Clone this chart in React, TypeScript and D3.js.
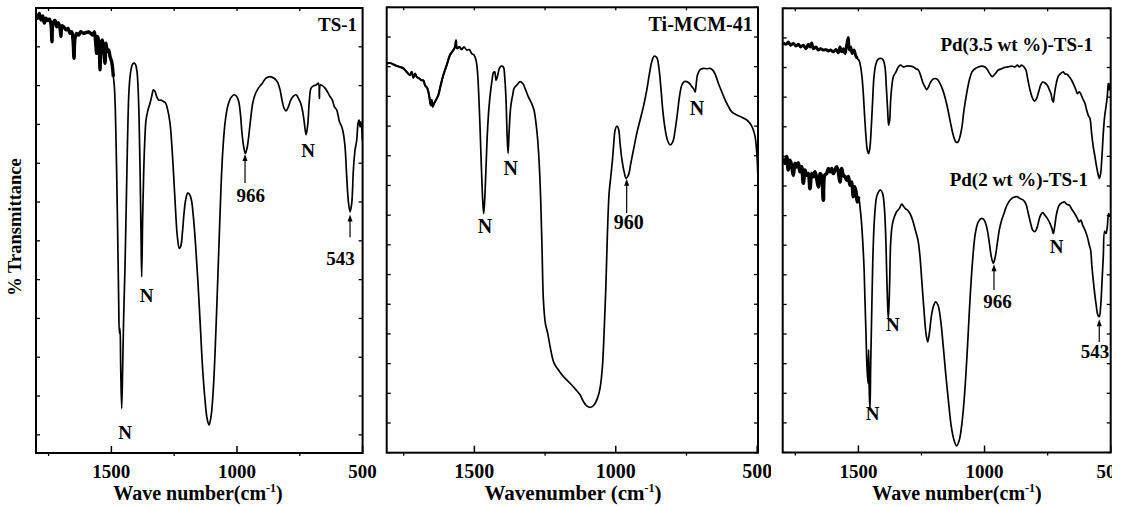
import React from "react";
import * as d3 from "d3";

type Pt = [number, number];

// ---------- data: [wavenumber (cm-1), transmittance (a.u., 0-100 of panel)] ----------
const ts1: Pt[] = [
  [1800,98.7],[1793.3,97.7],[1786.7,98.8],[1780.1,97.3],[1773.4,98.2],[1766.8,96.6],[1760.2,97.7],[1753.5,97.2],
  [1746.9,97.5],[1740.3,96.2],[1736.3,92.4],[1732.3,96.6],[1724.3,97.2],[1717.7,95.8],[1711.1,96.7],[1704.4,95.4],
  [1700.5,93.6],[1696.5,96.0],[1688.5,95.7],[1680.6,95.1],[1672.6,95.4],[1664.6,94.3],[1658.0,94.7],[1652.7,92.8],
  [1648.7,88.7],[1644.7,93.2],[1638.1,94.3],[1630.1,93.9],[1622.2,94.7],[1611.6,94.3],[1600.9,94.5],[1590.3,94.6],
  [1582.4,94.3],[1574.4,93.9],[1567.8,94.7],[1562.4,92.1],[1558.5,89.8],[1554.5,93.6],[1549.2,92.1],[1545.2,86.1],
  [1541.2,91.7],[1535.9,92.8],[1530.6,90.6],[1525.3,87.6],[1521.3,92.1],[1516.0,90.2],[1510.7,90.6],[1505.4,89.1],
  [1498.7,87.9],[1492.1,84.6],[1488.1,82.3],[1484.2,77.1],[1481.5,70.3],[1478.9,62.9],[1474.9,49.4],[1470.9,34.4],
  [1468.2,26.9],[1465.6,28.0],[1462.9,19.4],[1458.9,10.0],[1455.0,19.4],[1451.0,30.6],[1445.7,41.9],[1440.4,56.9],
  [1435.1,71.8],[1429.7,81.6],[1423.1,85.7],[1415.2,87.4],[1408.5,87.6],[1403.2,87.2],[1397.9,85.7],[1393.9,82.3],
  [1389.9,75.6],[1386.0,64.4],[1382.0,49.4],[1379.3,39.6],[1375.4,53.1],[1371.4,62.9],[1367.4,69.6],[1362.1,74.8],
  [1354.1,77.1],[1346.2,78.6],[1339.5,80.1],[1332.9,81.6],[1326.2,81.2],[1319.6,80.1],[1311.6,79.3],[1302.4,79.3],
  [1293.1,79.0],[1283.8,78.6],[1275.8,77.1],[1266.5,74.1],[1259.9,69.6],[1253.3,63.6],[1245.3,55.4],[1237.3,48.6],
  [1229.4,46.0],[1224.1,46.4],[1217.4,49.4],[1210.8,53.9],[1204.2,56.9],[1196.2,58.4],[1189.6,58.2],[1181.6,56.9],
  [1173.6,53.1],[1164.4,46.4],[1155.1,38.1],[1145.8,28.4],[1136.5,18.7],[1127.2,11.9],[1119.2,7.8],[1111.3,6.3],
  [1103.3,8.2],[1095.3,13.4],[1087.4,22.4],[1079.4,34.4],[1071.5,47.1],[1063.5,59.9],[1055.5,68.8],[1046.2,74.8],
  [1035.6,78.2],[1023.7,79.9],[1010.4,80.5],[1001.1,80.1],[993.2,79.0],[986.5,76.3],[979.9,71.8],[973.2,68.8],
  [966.6,67.3],[960.0,68.5],[953.4,71.1],[945.4,75.2],[937.4,78.6],[928.2,80.5],[914.9,82.0],[899.0,83.1],
  [885.7,84.2],[868.4,84.6],[852.5,84.2],[839.2,83.4],[828.6,81.6],[820.7,79.3],[812.7,77.5],[804.7,76.9],
  [795.5,77.8],[786.2,79.3],[775.5,80.2],[764.9,80.5],[755.6,79.7],[746.3,78.6],[738.4,76.7],[731.7,74.1],
  [725.1,71.5],[718.5,73.7],[711.8,79.3],[705.2,82.0],[695.9,82.5],[685.3,82.7],[676.0,83.1],[672.0,79.7],
  [668.1,82.7],[658.8,82.5],[649.5,82.0],[640.2,81.2],[629.6,80.1],[620.3,79.3],[612.3,77.8],[603.0,77.1],
  [592.4,74.5],[583.1,73.3],[576.5,71.8],[569.9,68.8],[563.2,62.1],[556.6,56.5],[549.9,54.2],[543.3,56.1],
  [536.7,63.6],[530.0,68.1],[523.4,70.3],[518.1,74.1],[514.1,74.8],[510.1,73.3],[506.2,74.5],[500.9,70.3],
];

const tiMcm41: Pt[] = [
  [1810.1,87.4],[1798.3,87.5],[1780.7,87.0],[1763.0,86.6],[1751.2,86.3],[1739.4,85.5],[1727.6,84.8],[1721.7,85.5],
  [1715.8,84.2],[1709.9,85.1],[1704.0,84.4],[1694.6,84.0],[1686.3,83.6],[1680.4,83.6],[1674.5,82.5],[1666.3,81.8],
  [1659.2,79.9],[1654.5,78.0],[1650.9,79.2],[1647.4,77.7],[1642.7,78.4],[1635.6,79.2],[1627.4,80.3],[1619.1,82.5],
  [1609.7,84.8],[1597.9,87.0],[1586.1,89.3],[1574.3,90.4],[1568.4,91.1],[1564.9,92.6],[1561.3,90.8],[1553.1,91.1],
  [1544.8,90.5],[1536.6,91.1],[1527.1,90.4],[1517.7,90.5],[1509.4,89.6],[1501.2,89.3],[1494.1,88.1],[1489.4,85.9],
  [1484.7,80.7],[1480.0,73.2],[1475.2,64.2],[1470.5,56.7],[1467.0,53.7],[1463.5,56.7],[1458.7,64.2],[1454.0,71.7],
  [1448.1,77.7],[1442.2,81.4],[1437.5,83.6],[1432.8,85.3],[1428.1,85.5],[1423.4,83.6],[1418.6,84.4],[1411.6,86.3],
  [1404.5,86.8],[1397.4,86.6],[1392.7,84.4],[1388.0,79.2],[1384.4,71.7],[1380.9,67.2],[1377.4,71.7],[1372.6,76.9],
  [1367.9,79.2],[1364.4,80.3],[1359.7,81.8],[1350.3,82.5],[1338.5,83.3],[1329.0,82.9],[1320.8,81.8],[1309.0,79.9],
  [1297.2,78.4],[1289.0,76.9],[1281.9,73.9],[1276.0,70.2],[1270.1,64.2],[1265.4,56.7],[1260.6,45.5],[1255.9,34.3],
  [1248.8,29.0],[1240.6,26.8],[1230.0,23.1],[1218.2,20.1],[1202.9,18.6],[1185.2,17.1],[1161.6,15.6],[1140.4,14.1],
  [1126.2,13.0],[1114.4,11.5],[1102.6,10.5],[1088.5,10.2],[1076.7,10.7],[1064.9,12.2],[1055.5,14.5],[1047.2,19.3],
  [1041.3,26.8],[1035.4,36.5],[1029.5,49.2],[1023.6,58.2],[1017.7,61.9],[1011.8,65.7],[1007.1,69.4],[1002.4,72.4],
  [996.5,73.3],[990.6,72.8],[984.7,69.4],[978.8,66.1],[970.5,63.1],[963.5,61.6],[955.3,62.3],[947.0,64.9],
  [937.6,67.9],[925.7,71.7],[913.9,74.7],[902.2,77.7],[890.4,81.4],[880.9,85.1],[872.7,87.8],[864.4,89.0],
  [855.0,88.7],[847.9,86.6],[840.8,82.2],[833.8,76.9],[826.7,73.2],[817.3,70.2],[807.8,69.1],[798.4,69.8],
  [790.1,72.4],[781.9,76.2],[774.8,79.9],[766.6,82.5],[758.3,83.3],[748.9,83.3],[739.5,82.9],[731.2,82.2],
  [725.3,81.8],[719.4,81.0],[715.9,82.5],[711.1,84.8],[701.7,86.0],[689.9,86.3],[678.1,86.2],[666.3,86.3],
  [656.9,85.9],[648.6,85.0],[636.9,82.9],[625.0,81.0],[613.2,79.2],[601.4,77.7],[589.6,76.5],[572.0,75.8],
  [554.3,75.3],[536.6,74.7],[524.8,73.9],[515.4,72.8],[507.1,70.9],[501.2,67.2],[497.7,62.7],
];

const pd35: Pt[] = [
  [1797.5,92.2],[1787.0,91.9],[1777.7,92.4],[1768.5,91.7],[1757.9,92.1],[1747.3,91.5],[1738.1,91.9],[1728.8,91.3],
  [1718.3,91.7],[1707.7,90.9],[1698.5,91.9],[1691.9,91.3],[1685.2,92.2],[1678.6,90.9],[1668.1,91.3],[1658.8,90.6],
  [1649.6,90.9],[1639.0,90.6],[1628.4,90.7],[1619.2,90.4],[1609.9,90.6],[1599.4,90.2],[1588.8,90.7],[1579.6,90.0],
  [1573.0,91.3],[1566.4,90.2],[1559.8,90.9],[1553.1,89.8],[1546.5,91.7],[1539.9,93.4],[1536.0,90.6],[1530.7,91.3],
  [1524.1,89.8],[1517.5,90.6],[1510.9,89.4],[1504.3,88.7],[1497.7,88.3],[1491.1,86.8],[1485.8,84.6],[1480.5,80.8],
  [1475.2,75.6],[1469.9,71.1],[1464.6,68.1],[1459.4,67.3],[1454.1,68.8],[1448.8,73.3],[1443.5,79.3],[1438.2,84.6],
  [1431.6,87.2],[1425.0,88.3],[1417.1,88.7],[1409.2,88.7],[1401.2,88.3],[1394.6,86.8],[1389.3,82.3],[1384.1,77.1],
  [1380.1,73.7],[1376.1,74.8],[1372.2,79.3],[1366.9,82.7],[1361.6,84.6],[1351.0,85.7],[1341.8,86.8],[1332.5,87.2],
  [1322.0,86.8],[1308.8,87.0],[1295.6,87.0],[1282.3,86.8],[1271.8,86.4],[1262.5,86.1],[1253.3,84.9],[1245.4,83.4],
  [1236.1,82.3],[1229.5,81.7],[1222.9,82.2],[1216.3,83.1],[1205.7,84.0],[1196.5,84.2],[1187.2,84.0],[1176.7,83.1],
  [1166.1,81.7],[1155.5,79.7],[1145.0,77.1],[1134.4,74.1],[1123.8,71.4],[1113.3,69.9],[1105.3,69.9],[1097.4,71.1],
  [1089.5,73.3],[1081.5,77.1],[1071.0,80.8],[1060.4,83.8],[1049.8,85.7],[1037.9,86.4],[1024.7,86.8],[1011.5,87.0],
  [998.3,86.8],[987.8,86.1],[978.5,85.2],[969.3,84.6],[958.7,85.2],[945.5,86.1],[932.3,86.4],[919.1,86.7],
  [905.9,86.8],[892.6,87.0],[879.4,86.8],[870.2,87.2],[862.3,86.8],[853.0,87.2],[843.8,86.8],[835.8,86.1],
  [829.2,84.2],[822.6,82.3],[816.0,80.8],[809.4,79.7],[801.5,79.1],[793.6,79.7],[785.6,81.2],[777.7,82.7],
  [769.8,83.4],[760.5,83.2],[751.3,82.7],[743.4,81.7],[736.7,80.8],[731.5,79.3],[727.5,78.9],[723.6,80.4],
  [717.0,82.7],[707.7,84.7],[698.5,85.3],[687.9,85.7],[681.3,85.2],[674.7,85.2],[664.1,84.6],[654.9,83.8],
  [645.6,82.7],[637.7,81.6],[632.4,80.8],[624.5,81.2],[619.2,80.8],[611.3,79.7],[602.0,78.6],[595.4,77.1],
  [588.8,75.9],[582.2,75.2],[575.6,71.8],[569.0,68.8],[562.4,66.6],[555.8,64.3],[550.5,62.8],[545.2,61.7],
  [539.9,62.8],[534.7,66.6],[529.4,71.8],[524.1,75.6],[518.8,77.8],[513.5,80.1],[509.6,83.1],[505.6,81.6],[503.0,83.1],
];

const pd2: Pt[] = [
  [1797.5,66.2],[1790.9,65.1],[1784.3,66.6],[1777.7,63.6],[1771.1,65.8],[1764.5,64.7],[1757.9,62.4],[1751.3,65.1],
  [1744.7,64.3],[1738.1,65.2],[1731.5,63.2],[1724.9,64.3],[1718.3,60.6],[1711.7,63.6],[1705.1,62.4],[1698.5,62.8],
  [1691.9,59.4],[1685.2,62.8],[1678.6,62.1],[1672.0,63.2],[1665.4,61.7],[1658.8,59.8],[1652.2,62.8],[1645.6,62.1],
  [1639.0,56.8],[1633.7,62.4],[1625.8,62.8],[1619.2,63.9],[1612.6,63.2],[1606.0,63.9],[1599.4,62.8],[1592.8,63.6],
  [1586.2,64.3],[1579.6,63.2],[1573.0,60.9],[1566.4,63.9],[1559.8,62.4],[1553.1,62.1],[1546.5,61.3],[1539.9,62.1],
  [1533.3,60.2],[1526.7,60.9],[1520.1,57.6],[1514.8,59.8],[1509.6,58.7],[1504.3,56.4],[1499.0,57.6],[1493.7,55.3],
  [1488.4,52.3],[1483.1,47.8],[1477.8,41.8],[1473.9,34.3],[1469.9,26.8],[1466.0,19.3],[1462.0,15.6],[1459.4,23.1],
  [1456.7,13.3],[1454.1,9.6],[1451.4,19.3],[1447.5,30.6],[1443.5,41.8],[1438.2,50.8],[1432.9,55.3],[1427.7,57.6],
  [1419.7,58.7],[1411.8,59.1],[1403.9,58.3],[1397.3,55.3],[1392.0,49.3],[1386.7,38.1],[1381.4,29.8],[1376.1,38.1],
  [1372.2,47.1],[1366.9,50.8],[1361.6,52.3],[1355.0,53.4],[1348.4,54.2],[1337.8,54.9],[1328.6,55.9],[1322.0,55.5],
  [1314.0,54.9],[1306.1,54.6],[1295.6,53.8],[1285.0,52.3],[1274.4,50.1],[1263.8,47.8],[1255.9,44.1],[1248.0,38.1],
  [1240.1,32.1],[1232.1,26.8],[1225.5,24.9],[1218.9,26.8],[1211.0,30.6],[1203.1,32.8],[1193.8,33.9],[1184.6,33.2],
  [1174.0,29.8],[1163.5,23.8],[1152.9,17.1],[1142.3,11.1],[1131.7,5.8],[1121.2,2.8],[1110.6,1.5],[1100.0,2.8],
  [1089.5,6.6],[1078.9,13.3],[1068.3,23.1],[1057.8,34.3],[1047.2,43.3],[1036.6,49.3],[1024.7,51.9],[1011.5,52.7],
  [1001.0,52.3],[991.7,50.8],[982.5,47.8],[973.2,44.1],[965.3,42.6],[957.4,44.1],[949.4,47.1],[941.5,50.1],
  [932.3,52.3],[923.0,53.8],[912.5,55.5],[899.3,56.8],[886.0,57.4],[872.8,57.6],[859.6,57.2],[846.4,56.8],
  [835.8,55.9],[826.6,53.8],[817.3,51.6],[809.4,50.1],[800.2,49.7],[790.9,50.8],[780.4,53.1],[769.8,54.0],
  [760.5,53.4],[751.3,52.7],[740.7,51.6],[732.8,50.4],[727.5,49.3],[722.2,50.8],[714.3,53.8],[703.7,55.7],
  [693.2,56.2],[682.6,56.4],[674.7,55.9],[664.1,55.7],[653.6,54.7],[643.0,53.8],[632.4,52.7],[624.5,51.9],
  [617.9,52.3],[611.3,51.2],[602.0,50.1],[592.8,48.6],[584.9,46.7],[579.6,45.6],[574.3,41.8],[566.4,37.3],
  [558.5,33.6],[550.5,30.9],[545.2,30.6],[539.9,32.8],[534.7,38.1],[529.4,44.1],[524.1,49.8],[518.8,49.3],
  [513.5,50.8],[508.3,53.8],[503.0,53.1],
];

// wavenumber above which each spectrum is a dense noisy band
const noiseEdge = { ts1: 1492, tiMcm41: 1540, pd35: 1500, pd2: 1496 };

// ---------- axis ticks ----------
const xMajorTicks = [1500, 1000, 500];
const xMinorTicks = [1750, 1250, 750];
const xTopTicks = [1750, 1500, 1250, 1000, 750];
const yTicksP1 = [100, 91.28, 82.56, 73.84, 65.12, 56.4, 47.68, 38.96, 30.24, 21.52, 12.8, 4.08];
const yTicksP23 = [100, 93.33, 86.67, 80, 73.33, 66.67, 60, 53.33, 46.67, 40, 33.33, 26.67, 20, 13.33, 6.67, 0];

// ---------- annotations ----------
type Ann = { t: string; wn: number; v: number; anchor?: "start" | "middle" | "end"; size?: number };
type Arrow = { wn: number; from: number; to: number };

const annP1: Ann[] = [
  { t: "TS-1", wn: 522, v: 94.8, anchor: "end" },
  { t: "N", wn: 1445.7, v: 3.1 },
  { t: "N", wn: 1359.3, v: 33.9 },
  { t: "966", wn: 944.9, v: 56.4 },
  { t: "N", wn: 717.1, v: 66.5 },
  { t: "543", wn: 587.8, v: 42.2 },
];
const arrP1: Arrow[] = [
  { wn: 968, from: 60.7, to: 67.2 },
  { wn: 550, from: 48.5, to: 53.6 },
];
const annP2: Ann[] = [
  { t: "Ti-MCM-41", wn: 515.8, v: 94.6, anchor: "end", size: 20 },
  { t: "N", wn: 1462.4, v: 49.3, size: 20 },
  { t: "N", wn: 1371.2, v: 62.3, size: 20 },
  { t: "960", wn: 954.3, v: 50.2, size: 20 },
  { t: "N", wn: 712.8, v: 75.8, size: 20 },
];
const arrP2: Arrow[] = [{ wn: 961.4, from: 53.8, to: 61.5 }];
const annP3: Ann[] = [
  { t: "Pd(3.5 wt %)-TS-1", wn: 570.3, v: 90.4, anchor: "end" },
  { t: "Pd(2 wt %)-TS-1", wn: 590.1, v: 60.0, anchor: "end" },
  { t: "N", wn: 1443.3, v: 7.3 },
  { t: "N", wn: 1362.9, v: 27.4 },
  { t: "966", wn: 948.7, v: 32.5 },
  { t: "N", wn: 714.1, v: 44.9 },
  { t: "543", wn: 562.3, v: 21.3 },
];
const arrP3: Arrow[] = [
  { wn: 962.6, from: 36.6, to: 42.4 },
  { wn: 545.3, from: 24.9, to: 30.0 },
];

const FONT = "'Liberation Serif', 'Times New Roman', Times, serif";

type Series = { pts: Pt[]; noiseEdge: number; noiseWidth: number };

type PanelDef = {
  id: string;
  left: number; right: number; top: number; bottom: number;
  xDomain: [number, number];
  yTicks: number[];
  series: Series[];
  ann: Ann[];
  arrows: Arrow[];
  xLabel: string;
  xLabelX: number;
  labelSize: number;
  tickSize: number;
  clip: [number, number];
};

const panels: PanelDef[] = [
  {
    id: "p1", left: 36, right: 362.6, top: 8, bottom: 453, xDomain: [1800, 500],
    yTicks: yTicksP1, series: [{ pts: ts1, noiseEdge: noiseEdge.ts1, noiseWidth: 3.4 }], ann: annP1, arrows: arrP1,
    xLabel: "Wave number(cm", xLabelX: 198, labelSize: 20, tickSize: 19, clip: [0, 380],
  },
  {
    id: "p2", left: 386.7, right: 758, top: 7.3, bottom: 452.7, xDomain: [1810, 497],
    yTicks: yTicksP23, series: [{ pts: tiMcm41, noiseEdge: noiseEdge.tiMcm41, noiseWidth: 2.1 }], ann: annP2, arrows: arrP2,
    xLabel: "Wavenumber (cm", xLabelX: 573, labelSize: 21, tickSize: 20, clip: [372, 771],
  },
  {
    id: "p3", left: 782.7, right: 1110.7, top: 8.3, bottom: 452.5, xDomain: [1800, 500],
    yTicks: yTicksP23,
    series: [
      { pts: pd35, noiseEdge: noiseEdge.pd35, noiseWidth: 3.0 },
      { pts: pd2, noiseEdge: noiseEdge.pd2, noiseWidth: 3.6 },
    ],
    ann: annP3, arrows: arrP3,
    xLabel: "Wave number(cm", xLabelX: 957, labelSize: 20, tickSize: 19, clip: [772, 1112],
  },
];

function Panel({ p }: { p: PanelDef }) {
  const x = d3.scaleLinear().domain(p.xDomain).range([p.left, p.right]);
  const y = d3.scaleLinear().domain([0, 100]).range([p.bottom, p.top]);
  const line = d3
    .line<Pt>()
    .x((d) => x(d[0]))
    .y((d) => y(d[1]))
    .curve(d3.curveCatmullRom.alpha(0.5));
  const size = p.ann.find((a) => a.size)?.size ?? 19;
  return (
    <g clipPath={`url(#clip-${p.id})`}>
      <defs>
        <clipPath id={`clip-${p.id}`}>
          <rect x={p.clip[0]} y={0} width={p.clip[1] - p.clip[0]} height={507} />
        </clipPath>
        <clipPath id={`plot-${p.id}`}>
          <rect x={p.left} y={p.top} width={p.right - p.left} height={p.bottom - p.top} />
        </clipPath>
      </defs>
      <g clipPath={`url(#plot-${p.id})`}>
        {p.series.map((s, i) => (
          <g key={i}>
            <path d={line(s.pts) ?? ""} fill="none" stroke="#000" strokeWidth={1.7} strokeLinejoin="round" />
            <path
              d={line(s.pts.filter((d) => d[0] >= s.noiseEdge)) ?? ""}
              fill="none"
              stroke="#000"
              strokeWidth={s.noiseWidth}
              strokeLinejoin="round"
            />
          </g>
        ))}
      </g>
      {p.yTicks.map((t, i) => (
        <g key={i} stroke="#000" strokeWidth={1.3}>
          <line x1={p.left} x2={p.left + 4} y1={y(t)} y2={y(t)} />
          <line x1={p.right} x2={p.right - 4} y1={y(t)} y2={y(t)} />
        </g>
      ))}
      {xMajorTicks.map((t) => (
        <line key={"M" + t} x1={x(t)} x2={x(t)} y1={p.bottom} y2={p.bottom - 7} stroke="#000" strokeWidth={1.5} />
      ))}
      {xMinorTicks.map((t) => (
        <line key={"m" + t} x1={x(t)} x2={x(t)} y1={p.bottom} y2={p.bottom + 3} stroke="#000" strokeWidth={1.3} />
      ))}
      {xTopTicks.map((t) => (
        <line key={"t" + t} x1={x(t)} x2={x(t)} y1={p.top} y2={p.top + 3} stroke="#000" strokeWidth={1.3} />
      ))}
      <rect x={p.left} y={p.top} width={p.right - p.left} height={p.bottom - p.top} fill="none" stroke="#000" strokeWidth={2} />
      {xMajorTicks.map((t) => (
        <text key={"l" + t} x={x(t)} y={478} textAnchor="middle" fontFamily={FONT} fontWeight="bold" fontSize={p.tickSize}>
          {t}
        </text>
      ))}
      <text x={p.xLabelX} y={500} textAnchor="middle" fontFamily={FONT} fontWeight="bold" fontSize={p.labelSize}>
        {p.xLabel}
        <tspan fontSize={12} dy={-8}>-1</tspan>
        <tspan dy={8}>)</tspan>
      </text>
      {p.ann.map((a, i) => (
        <text key={"a" + i} x={x(a.wn)} y={y(a.v)} textAnchor={a.anchor ?? "middle"} fontFamily={FONT} fontWeight="bold" fontSize={a.size ?? size}>
          {a.t}
        </text>
      ))}
      {p.arrows.map((a, i) => {
        const ax = x(a.wn);
        const y0 = y(a.from);
        const y1 = y(a.to);
        return (
          <g key={"ar" + i}>
            <line x1={ax} x2={ax} y1={y0} y2={y1 + 5} stroke="#000" strokeWidth={1.2} />
            <path d={`M${ax},${y1} L${ax - 2.5},${y1 + 7} L${ax + 2.5},${y1 + 7} Z`} fill="#000" />
          </g>
        );
      })}
    </g>
  );
}

export default function App() {
  return (
    <svg
      width={1129}
      height={507}
      viewBox="0 0 1129 507"
      style={{ position: "absolute", left: 0, top: 0, background: "#fff" }}
    >
      <rect width={1129} height={507} fill="#fff" />
      {panels.map((p) => (
        <Panel key={p.id} p={p} />
      ))}
      <text
        transform="translate(21,227) rotate(-90)"
        textAnchor="middle"
        fontFamily={FONT}
        fontWeight="bold"
        fontSize={18.5}
      >
        % Transmittance
      </text>
    </svg>
  );
}
